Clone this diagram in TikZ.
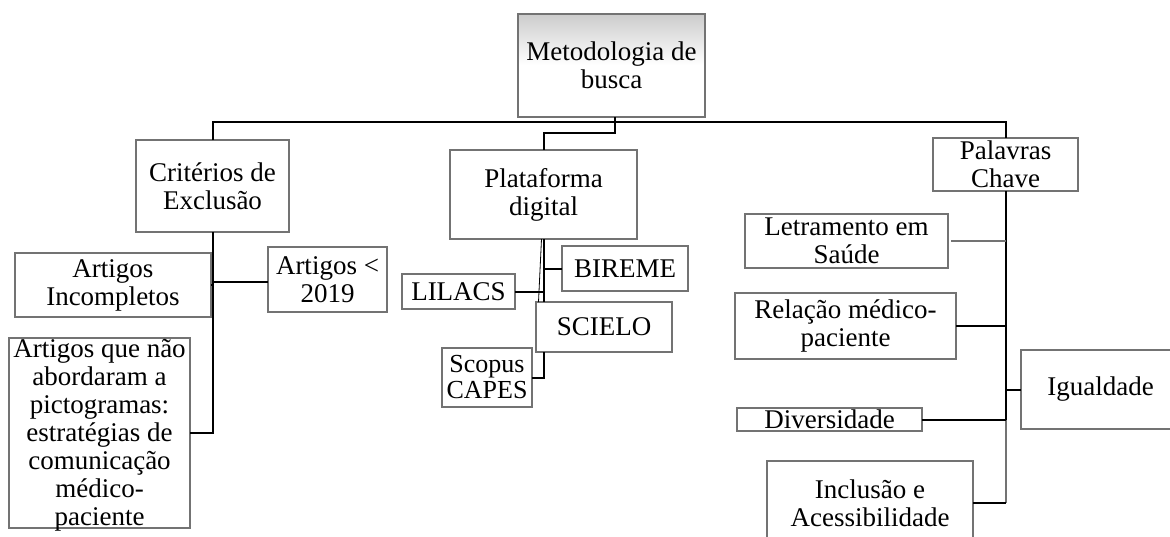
\documentclass[tikz,border=0pt]{standalone}
\usepackage{fontspec}
\setmainfont{Liberation Serif}
\begin{document}
\begin{tikzpicture}[x=1pt,y=-1pt,
  box/.style={draw=black!55, line width=1.2pt, rectangle, inner sep=0pt, outer sep=0pt, align=center,
    font=\fontsize{27}{28}\selectfont},
  conn/.style={draw=black, line width=2pt},
  lconn/.style={draw=black!55, line width=2pt}]
\useasboundingbox (0,0) rectangle (1170,536);

% root
\node[box, minimum width=187pt, minimum height=103pt, top color=black!20, bottom color=white, middle color=white] (meta) at (611.5,65.5) {Metodologia de\\busca};

% level 1
\node[box, minimum width=153pt, minimum height=92pt] (crit) at (212.5,186) {Critérios de\\Exclusão};
\node[box, minimum width=187pt, minimum height=89pt] (plat) at (543.5,194.5) {Plataforma\\digital};
\node[box, minimum width=145pt, minimum height=53pt] (pal) at (1005.5,164.5) {Palavras\\Chave};

% exclusion criteria
\node[box, minimum width=196pt, minimum height=64pt] (inc) at (113,285) {Artigos\\Incompletos};
\node[box, minimum width=119pt, minimum height=65pt] (a2019) at (327.5,279.5) {Artigos <\\2019};
\node[box, minimum width=181pt, minimum height=190pt] (anao) at (99.5,433) {};
\node[font=\fontsize{27}{28}\selectfont, align=center, inner sep=0pt] (anaotxt) at (99.5,435) {Artigos que não\\abordaram a\\pictogramas:\\estratégias de\\comunicação\\médico-\\paciente};

% platforms
\node[box, minimum width=126pt, minimum height=45pt] (bireme) at (625,268.5) {BIREME};
\node[box, minimum width=113pt, minimum height=35pt] (lilacs) at (458.5,291.5) {LILACS};
\node[box, minimum width=136pt, minimum height=50pt, fill=white] (scielo) at (604,327) {SCIELO};
\node[box, minimum width=90pt, minimum height=59pt, font=\fontsize{26}{26}\selectfont] (scopus) at (487,377.5) {Scopus\\CAPES};

% keywords
\node[box, minimum width=203pt, minimum height=54pt] (letr) at (846.5,241) {Letramento em\\Saúde};
\node[box, minimum width=221pt, minimum height=66pt] (rel) at (845.5,326) {Relação médico-\\paciente};
\node[box, minimum width=159pt, minimum height=79pt] (igu) at (1100.5,389.5) {Igualdade};
\node[box, minimum width=185pt, minimum height=23pt, text height=20pt, text depth=3pt] (div) at (829.5,419.5) {Diversidade};
\node[box, minimum width=206pt, minimum height=84pt] (incl) at (870,503) {Inclusão e\\Acessibilidade};

% top connectors
\draw[conn] (crit.north) -- (crit.north |- 0,122) -- (pal.north |- 0,122) -- (pal.north);
\draw[conn] ([xshift=3pt]meta.south) -- ([xshift=3pt]meta.south |- 0,133) -| (plat.north);

% exclusion connectors
\draw[conn] (crit.south) |- (anao.east);
\draw[conn] (crit.south |- 0,282) -- (a2019.west |- 0,282);
\draw[conn] (inc.east) -- (crit.south |- inc.east);

% platform connectors
\draw[conn] (plat.south) -- (plat.south |- scielo.north);
\draw[line width=0.8pt] ([xshift=-2pt]plat.south) -- ([xshift=-5pt]plat.south |- scielo.north);
\draw[conn] (plat.south |- bireme.west) -- (bireme.west);
\draw[conn] (lilacs.east) -- (plat.south |- lilacs.east);
\draw[conn] (plat.south |- scielo.south) -- (plat.south |- scopus.east) -- (scopus.east);

% keyword connectors
\draw[conn] (pal.south) -- (pal.south |- 0,420);
\draw[lconn] (pal.south |- 0,420) -- (pal.south |- incl.east);
\draw[conn] (pal.south |- incl.east) -- (incl.east);
\draw[lconn] ([xshift=3pt]letr.east) -- (pal.south |- letr.east);
\draw[conn] (rel.east) -- (pal.south |- rel.east);
\draw[conn] (pal.south |- igu.west) -- (igu.west);
\draw[conn] (div.east) -- (pal.south |- div.east);
\end{tikzpicture}
\end{document}
